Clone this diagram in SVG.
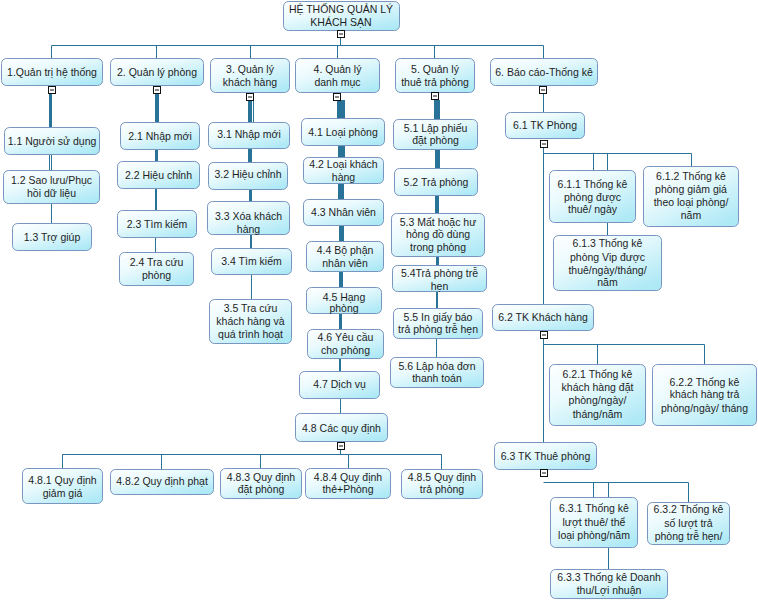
<svg xmlns="http://www.w3.org/2000/svg" xmlns:xlink="http://www.w3.org/1999/xlink" width="758" height="600" viewBox="0 0 758 600">
<defs>
<linearGradient id="g" x1="0" y1="0" x2="0.8" y2="1">
<stop offset="0" stop-color="#ffffff"/>
<stop offset="0.4" stop-color="#eafafd"/>
<stop offset="1" stop-color="#aee9f6"/>
</linearGradient>
<g id="ic"><rect x="-3.5" y="-3.5" width="7" height="7" fill="#fff" stroke="#111"/><line x1="-2" y1="0" x2="2" y2="0" stroke="#111"/></g>
</defs>
<style>
.box{fill:url(#g);stroke:#7896bf;stroke-width:1}
text{font-family:"Liberation Sans",Arial,sans-serif;font-size:10.5px;fill:#1e1e1e;text-anchor:middle}
.c line{stroke:#2a7398;stroke-width:1;fill:none}
</style>
<rect width="758" height="600" fill="#fff"/>
<g id="connectors" class="c">
<line x1="340.5" y1="37.5" x2="340.5" y2="45.5"/>
<line x1="51.5" y1="45.5" x2="543.5" y2="45.5"/>
<line x1="51.5" y1="45.5" x2="51.5" y2="58"/>
<line x1="156.5" y1="45.5" x2="156.5" y2="58"/>
<line x1="250.5" y1="45.5" x2="250.5" y2="58"/>
<line x1="337.5" y1="45.5" x2="337.5" y2="58"/>
<line x1="434.5" y1="45.5" x2="434.5" y2="58"/>
<line x1="543.5" y1="45.5" x2="543.5" y2="58"/>
<line x1="50.5" y1="93" x2="50.5" y2="127"/>
<line x1="49.5" y1="93" x2="49.5" y2="170"/>
<line x1="51.5" y1="93" x2="51.5" y2="223"/>
<line x1="158.5" y1="93" x2="158.5" y2="122"/>
<line x1="157.5" y1="93" x2="157.5" y2="161"/>
<line x1="156.5" y1="93" x2="156.5" y2="210"/>
<line x1="155.5" y1="93" x2="155.5" y2="252"/>
<line x1="253.5" y1="100" x2="253.5" y2="122"/>
<line x1="248.5" y1="100" x2="248.5" y2="162"/>
<line x1="249.5" y1="100" x2="249.5" y2="201"/>
<line x1="250.5" y1="100" x2="250.5" y2="248"/>
<line x1="251.5" y1="100" x2="251.5" y2="299"/>
<line x1="337.5" y1="100" x2="337.5" y2="118"/>
<line x1="344.5" y1="100" x2="344.5" y2="157"/>
<line x1="338.5" y1="100" x2="338.5" y2="199"/>
<line x1="343.5" y1="100" x2="343.5" y2="241"/>
<line x1="342.5" y1="100" x2="342.5" y2="287"/>
<line x1="341.5" y1="100" x2="341.5" y2="329"/>
<line x1="339.5" y1="100" x2="339.5" y2="371"/>
<line x1="340.5" y1="100" x2="340.5" y2="413"/>
<line x1="340.5" y1="449.5" x2="340.5" y2="454.5"/>
<line x1="62.5" y1="454.5" x2="441.5" y2="454.5"/>
<line x1="62.5" y1="454.5" x2="62.5" y2="468"/>
<line x1="161.5" y1="454.5" x2="161.5" y2="469"/>
<line x1="260.5" y1="454.5" x2="260.5" y2="468"/>
<line x1="348.5" y1="454.5" x2="348.5" y2="468"/>
<line x1="441.5" y1="454.5" x2="441.5" y2="469"/>
<line x1="434.5" y1="100" x2="434.5" y2="119"/>
<line x1="439.5" y1="100" x2="439.5" y2="168"/>
<line x1="435.5" y1="100" x2="435.5" y2="213"/>
<line x1="438.5" y1="100" x2="438.5" y2="265"/>
<line x1="437.5" y1="100" x2="437.5" y2="308"/>
<line x1="436.5" y1="100" x2="436.5" y2="357"/>
<line x1="543.5" y1="93.5" x2="543.5" y2="112"/>
<line x1="543.5" y1="147.5" x2="543.5" y2="304"/>
<line x1="543.5" y1="338.5" x2="543.5" y2="442"/>
<line x1="543.5" y1="153.5" x2="691.5" y2="153.5"/>
<line x1="593.5" y1="153.5" x2="593.5" y2="170"/>
<line x1="607.5" y1="153.5" x2="607.5" y2="235"/>
<line x1="691.5" y1="153.5" x2="691.5" y2="166"/>
<line x1="543.5" y1="344.5" x2="704.5" y2="344.5"/>
<line x1="597.5" y1="344.5" x2="597.5" y2="364"/>
<line x1="704.5" y1="344.5" x2="704.5" y2="364"/>
<line x1="543.5" y1="482.5" x2="688.5" y2="482.5"/>
<line x1="593.5" y1="482.5" x2="593.5" y2="497"/>
<line x1="608.5" y1="482.5" x2="608.5" y2="569"/>
<line x1="688.5" y1="482.5" x2="688.5" y2="502"/>
</g>

<g id="root"><rect class="box" x="283.5" y="1.5" width="116" height="29" rx="5"/><text x="341" y="12.5">HỆ THỐNG QUẢN LÝ</text><text x="341" y="25.5">KHÁCH SẠN</text><use xlink:href="#ic" x="341" y="34"/></g>

<g id="n1"><rect class="box" x="1.5" y="58.5" width="101" height="27" rx="5"/><text x="52" y="75.5">1.Quản trị hệ thống</text><use xlink:href="#ic" x="52" y="90"/></g>
<g id="n2"><rect class="box" x="110.5" y="58.5" width="93" height="27" rx="5"/><text x="157" y="75.5">2. Quản lý phòng</text><use xlink:href="#ic" x="157" y="90"/></g>
<g id="n3"><rect class="box" x="210.5" y="58.5" width="79" height="34" rx="5"/><text x="250" y="73">3. Quản lý</text><text x="250" y="85.5">khách hàng</text><use xlink:href="#ic" x="250" y="97"/></g>
<g id="n4"><rect class="box" x="295.5" y="58.5" width="84" height="34" rx="5"/><text x="337.5" y="73">4. Quản lý</text><text x="337.5" y="85.5">danh mục</text><use xlink:href="#ic" x="337" y="97"/></g>
<g id="n5"><rect class="box" x="395.5" y="58.5" width="79" height="34" rx="5"/><text x="435" y="73">5. Quản lý</text><text x="435" y="85.5">thuê trả phòng</text><use xlink:href="#ic" x="435" y="96"/></g>
<g id="n6"><rect class="box" x="490.5" y="58.5" width="107" height="27" rx="5"/><text x="544" y="75.5">6. Báo cáo-Thống kê</text><use xlink:href="#ic" x="543" y="90"/></g>

<g id="n1_1"><rect class="box" x="4.5" y="127.5" width="95" height="27" rx="5"/><text x="52" y="144.5">1.1 Người sử dụng</text></g>
<g id="n1_2"><rect class="box" x="3.5" y="170.5" width="96" height="33" rx="5"/><text x="51.5" y="184">1.2 Sao lưu/Phục</text><text x="51.5" y="197">hồi dữ liệu</text></g>
<g id="n1_3"><rect class="box" x="12.5" y="223.5" width="79" height="27" rx="5"/><text x="52" y="240.5">1.3 Trợ giúp</text></g>

<g id="n2_1"><rect class="box" x="120.5" y="122.5" width="79" height="27" rx="5"/><text x="160" y="139.5">2.1 Nhập mới</text></g>
<g id="n2_2"><rect class="box" x="117.5" y="161.5" width="82" height="27" rx="5"/><text x="158.5" y="178.5">2.2 Hiệu chỉnh</text></g>
<g id="n2_3"><rect class="box" x="117.5" y="210.5" width="79" height="27" rx="5"/><text x="157" y="227.5">2.3 Tìm kiếm</text></g>
<g id="n2_4"><rect class="box" x="119.5" y="252.5" width="74" height="33" rx="5"/><text x="156.5" y="265.5">2.4 Tra cứu</text><text x="156.5" y="279">phòng</text></g>

<g id="n3_1"><rect class="box" x="208.5" y="122.5" width="81" height="26" rx="5"/><text x="249" y="137.5">3.1 Nhập mới</text></g>
<g id="n3_2"><rect class="box" x="208.5" y="162.5" width="79" height="27" rx="5"/><text x="248" y="178">3.2 Hiệu chỉnh</text></g>
<g id="n3_3"><rect class="box" x="207.5" y="201.5" width="82" height="33" rx="5"/><text x="248.5" y="219.5">3.3 Xóa khách</text><text x="248.5" y="233">hàng</text></g>
<g id="n3_4"><rect class="box" x="211.5" y="248.5" width="80" height="26" rx="5"/><text x="251.5" y="265">3.4 Tìm kiếm</text></g>
<g id="n3_5"><rect class="box" x="209.5" y="299.5" width="82" height="44" rx="5"/><text x="250.5" y="312">3.5 Tra cứu</text><text x="250.5" y="324.5">khách hàng và</text><text x="250.5" y="337.5">quá trình hoạt</text></g>

<g id="n4_1"><rect class="box" x="301.5" y="118.5" width="83" height="27" rx="5"/><text x="343" y="135.5">4.1 Loại phòng</text></g>
<g id="n4_2"><rect class="box" x="303.5" y="157.5" width="80" height="26" rx="5"/><text x="343.5" y="168">4.2 Loại khách</text><text x="343.5" y="181">hàng</text></g>
<g id="n4_3"><rect class="box" x="303.5" y="199.5" width="80" height="26" rx="5"/><text x="343.5" y="216">4.3 Nhân viên</text></g>
<g id="n4_4"><rect class="box" x="306.5" y="241.5" width="77" height="30" rx="5"/><text x="345" y="254">4.4 Bộ phận</text><text x="345" y="267">nhân viên</text></g>
<g id="n4_5"><rect class="box" x="306.5" y="287.5" width="75" height="26" rx="5"/><text x="344" y="300.5">4.5 Hạng</text><text x="344" y="312">phòng</text></g>
<g id="n4_6"><rect class="box" x="307.5" y="329.5" width="76" height="29" rx="5"/><text x="345.5" y="340.5">4.6 Yêu cầu</text><text x="345.5" y="354">cho phòng</text></g>
<g id="n4_7"><rect class="box" x="299.5" y="371.5" width="80" height="27" rx="5"/><text x="339.5" y="388">4.7 Dịch vụ</text></g>
<g id="n4_8"><rect class="box" x="295.5" y="413.5" width="92" height="28" rx="5"/><text x="341.5" y="431.5">4.8 Các quy định</text><use xlink:href="#ic" x="341" y="446"/></g>

<g id="n4_8_1"><rect class="box" x="22.5" y="468.5" width="80" height="35" rx="5"/><text x="62.5" y="484">4.8.1 Quy định</text><text x="62.5" y="496.5">giảm giá</text></g>
<g id="n4_8_2"><rect class="box" x="110.5" y="469.5" width="103" height="25" rx="5"/><text x="162" y="485">4.8.2 Quy định phạt</text></g>
<g id="n4_8_3"><rect class="box" x="220.5" y="468.5" width="81" height="30" rx="5"/><text x="261" y="480.5">4.8.3 Quy định</text><text x="261" y="493">đặt phòng</text></g>
<g id="n4_8_4"><rect class="box" x="305.5" y="468.5" width="85" height="30" rx="5"/><text x="348" y="480.5">4.8.4 Quy định</text><text x="348" y="493">thẻ+Phòng</text></g>
<g id="n4_8_5"><rect class="box" x="401.5" y="469.5" width="81" height="29" rx="5"/><text x="442" y="480.5">4.8.5 Quy định</text><text x="442" y="493">trả phòng</text></g>

<g id="n5_1"><rect class="box" x="393.5" y="119.5" width="84" height="30" rx="5"/><text x="435.5" y="131.5">5.1 Lập phiếu</text><text x="435.5" y="144">đặt phòng</text></g>
<g id="n5_2"><rect class="box" x="394.5" y="168.5" width="83" height="27" rx="5"/><text x="436" y="185.5">5.2 Trả phòng</text></g>
<g id="n5_3"><rect class="box" x="391.5" y="213.5" width="93" height="43" rx="5"/><text x="438" y="225.5">5.3 Mất hoặc hư</text><text x="438" y="238">hỏng đồ dùng</text><text x="438" y="251">trong phòng</text></g>
<g id="n5_4"><rect class="box" x="392.5" y="265.5" width="94" height="26" rx="5"/><text x="439.5" y="276.5">5.4Trả phòng trễ</text><text x="439.5" y="289.5">hẹn</text></g>
<g id="n5_5"><rect class="box" x="393.5" y="308.5" width="89" height="30" rx="5"/><text x="438" y="320.5">5.5 In giấy báo</text><text x="438" y="333">trả phòng trễ hẹn</text></g>
<g id="n5_6"><rect class="box" x="390.5" y="357.5" width="93" height="30" rx="5"/><text x="437" y="369.5">5.6 Lập hóa đơn</text><text x="437" y="382">thanh toán</text></g>

<g id="n6_1"><rect class="box" x="505.5" y="112.5" width="79" height="26" rx="5"/><text x="545" y="129">6.1 TK Phòng</text><use xlink:href="#ic" x="544" y="144"/></g>
<g id="n6_1_1"><rect class="box" x="549.5" y="170.5" width="86" height="52" rx="5"/><text x="592.5" y="188">6.1.1 Thống kê</text><text x="592.5" y="200.5">phòng được</text><text x="592.5" y="213">thuê/ ngày</text></g>
<g id="n6_1_2"><rect class="box" x="643.5" y="166.5" width="95" height="60" rx="5"/><text x="691" y="180">6.1.2 Thống kê</text><text x="691" y="193">phòng giảm giá</text><text x="691" y="206">theo loại phòng/</text><text x="691" y="218.5">năm</text></g>
<g id="n6_1_3"><rect class="box" x="553.5" y="235.5" width="108" height="55" rx="5"/><text x="607.5" y="247">6.1.3 Thống kê</text><text x="607.5" y="260.5">phòng Vip được</text><text x="607.5" y="273.5">thuê/ngày/tháng/</text><text x="607.5" y="286">năm</text></g>
<g id="n6_2"><rect class="box" x="492.5" y="304.5" width="101" height="26" rx="5"/><text x="543" y="320.5">6.2 TK Khách hàng</text><use xlink:href="#ic" x="544" y="335"/></g>
<g id="n6_2_1"><rect class="box" x="549.5" y="364.5" width="96" height="61" rx="5"/><text x="597.5" y="378">6.2.1 Thống kê</text><text x="597.5" y="391">khách hàng đặt</text><text x="597.5" y="404">phòng/ngày/</text><text x="597.5" y="417.5">tháng/năm</text></g>
<g id="n6_2_2"><rect class="box" x="652.5" y="364.5" width="104" height="61" rx="5"/><text x="704.5" y="385.5">6.2.2 Thống kê</text><text x="704.5" y="398">khách hàng trả</text><text x="704.5" y="411.5">phòng/ngày/ tháng</text></g>
<g id="n6_3"><rect class="box" x="494.5" y="442.5" width="102" height="27" rx="5"/><text x="545.5" y="459.5">6.3 TK Thuê phòng</text><use xlink:href="#ic" x="544" y="473"/></g>
<g id="n6_3_1"><rect class="box" x="550.5" y="497.5" width="87" height="50" rx="5"/><text x="594" y="512">6.3.1 Thống kê</text><text x="594" y="525.5">lượt thuê/ thể</text><text x="594" y="538.5">loại phòng/năm</text></g>
<g id="n6_3_2"><rect class="box" x="647.5" y="502.5" width="82" height="42" rx="5"/><text x="688.5" y="513">6.3.2 Thống kê</text><text x="688.5" y="526.5">số lượt trả</text><text x="688.5" y="540">phòng trễ hẹn/</text></g>
<g id="n6_3_3"><rect class="box" x="550.5" y="569.5" width="117" height="29" rx="5"/><text x="609" y="580.5">6.3.3 Thống kê Doanh</text><text x="609" y="594">thu/Lợi nhuận</text></g>
</svg>
